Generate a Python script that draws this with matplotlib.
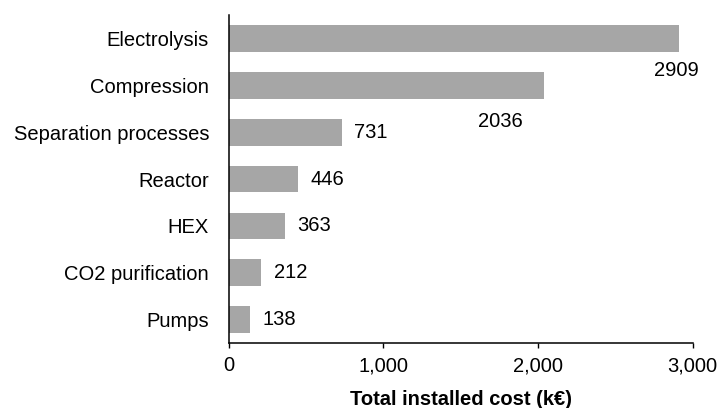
import matplotlib
matplotlib.use("Agg")
import matplotlib.pyplot as plt
from matplotlib.ticker import FuncFormatter

categories = ["Electrolysis", "Compression", "Separation processes", "Reactor",
              "HEX", "CO2 purification", "Pumps"]
values = [2909, 2036, 731, 446, 363, 212, 138]
xticks = [0, 1000, 2000, 3000]
xlabel = "Total installed cost (k€)"

plt.rcParams['font.family'] = ['Liberation Sans', 'DejaVu Sans']
FS = 14.5

fig = plt.figure(figsize=(7.2, 4.08), dpi=100)
ax = fig.add_axes([0.3174, 0.1593, 0.6446, 0.8039])

ypos = list(range(len(categories)))
ax.barh(ypos, values, height=0.57, color="#a6a6a6")
ax.set_ylim(len(categories) - 0.5, -0.5)
ax.set_xlim(0, 3000)
ax.set_yticks(ypos)
ax.set_yticklabels(categories, fontsize=FS)
ax.set_xticks(xticks)
ax.xaxis.set_major_formatter(FuncFormatter(lambda v, p: f"{int(v):,}"))
ax.tick_params(axis='y', length=0, pad=14)
ax.tick_params(axis='x', length=3.6, width=1.0, pad=6, labelsize=FS)
ax.set_xlabel(xlabel, fontsize=FS, fontweight='bold', labelpad=10.5)

for s in ['top', 'right']:
    ax.spines[s].set_visible(False)
for s in ['left', 'bottom']:
    ax.spines[s].set_linewidth(1.1)
    ax.spines[s].set_color('black')

# data labels (Excel-style positions)
offsets = {0: (-1.5, -23, 'center'), 1: (-31, -26, 'center')}
for i, v in enumerate(values):
    if i in offsets:
        dx, dy, ha = offsets[i]
    else:
        dx, dy, ha = 9, 0, 'left'
    ax.annotate(str(v), xy=(v, i), xytext=(dx, dy), textcoords='offset points',
                ha=ha, va='center', fontsize=FS)

fig.savefig("out.png", dpi=100)
